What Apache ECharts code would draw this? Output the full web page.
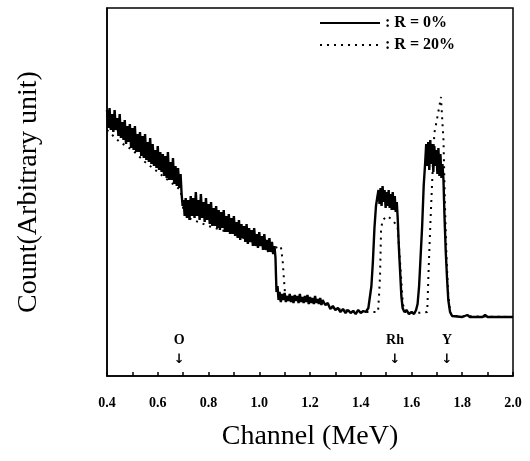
<!DOCTYPE html>
<html>
<head>
<meta charset="utf-8">
<script src="https://cdn.jsdelivr.net/npm/echarts@6/dist/echarts.min.js"></script>
<style>
  html, body { margin: 0; padding: 0; background: #fff; }
  #rbs { width: 530px; height: 461px; }
</style>
</head>
<body>
<div id="rbs"></div>
<script>
// energy (MeV), counts (arbitrary)
var solid0 = [
    [0.400, 266], [0.405, 248], [0.410, 268], [0.415, 246], [0.420, 262], [0.425, 244],
    [0.430, 266], [0.435, 246], [0.440, 258], [0.445, 240], [0.450, 262], [0.455, 238],
    [0.460, 254], [0.465, 236], [0.470, 256], [0.475, 232], [0.480, 250], [0.485, 234],
    [0.490, 252], [0.495, 228], [0.500, 248], [0.505, 226], [0.510, 250], [0.515, 224],
    [0.520, 242], [0.525, 224], [0.530, 244], [0.535, 220], [0.540, 240], [0.545, 218],
    [0.550, 242], [0.555, 216], [0.560, 234], [0.565, 214], [0.570, 238], [0.575, 212],
    [0.580, 232], [0.585, 210], [0.590, 226], [0.595, 208], [0.600, 230], [0.605, 206],
    [0.610, 224], [0.615, 204], [0.620, 222], [0.625, 200], [0.630, 220], [0.635, 198],
    [0.640, 224], [0.645, 196], [0.650, 214], [0.655, 196], [0.660, 218], [0.665, 192],
    [0.670, 210], [0.675, 190], [0.680, 208], [0.685, 188], [0.690, 202], [0.694, 182],
    [0.698, 170], [0.702, 176], [0.706, 160],
    [0.710, 178], [0.715, 158], [0.720, 176], [0.725, 156], [0.730, 180], [0.735, 160],
    [0.740, 178], [0.745, 158], [0.750, 184], [0.755, 160], [0.760, 176], [0.765, 156],
    [0.770, 182], [0.775, 158], [0.780, 174], [0.785, 154], [0.790, 178], [0.795, 156],
    [0.800, 172], [0.805, 152], [0.810, 174], [0.815, 150], [0.820, 168], [0.825, 150],
    [0.830, 170], [0.835, 148], [0.840, 166], [0.845, 146], [0.850, 164], [0.855, 148],
    [0.860, 166], [0.865, 144], [0.870, 160], [0.875, 144], [0.880, 162], [0.885, 142],
    [0.890, 158], [0.895, 142], [0.900, 160], [0.905, 140], [0.910, 154], [0.915, 138],
    [0.920, 156], [0.925, 136], [0.930, 152], [0.935, 138], [0.940, 150], [0.945, 134],
    [0.950, 152], [0.955, 132], [0.960, 148], [0.965, 134], [0.970, 146], [0.975, 130],
    [0.980, 148], [0.985, 130], [0.990, 142], [0.995, 128], [1.000, 144], [1.005, 130],
    [1.010, 140], [1.015, 126], [1.020, 142], [1.025, 126], [1.030, 136], [1.035, 124],
    [1.040, 138], [1.045, 124], [1.050, 134], [1.055, 122], [1.060, 130], [1.064, 118],
    [1.066, 100], [1.068, 84], [1.072, 90], [1.076, 76],
    [1.080, 84], [1.085, 74], [1.090, 82], [1.095, 76], [1.100, 83], [1.105, 74],
    [1.110, 80], [1.115, 75], [1.120, 82], [1.125, 74], [1.130, 80], [1.135, 73],
    [1.140, 81], [1.145, 75], [1.150, 80], [1.155, 73], [1.160, 82], [1.165, 74],
    [1.170, 79], [1.175, 73], [1.180, 80], [1.185, 74], [1.190, 81], [1.195, 72],
    [1.200, 79], [1.205, 73], [1.210, 78], [1.215, 72], [1.220, 80], [1.225, 73],
    [1.230, 77], [1.235, 72], [1.240, 78], [1.245, 71], [1.250, 76], [1.260, 71],
    [1.270, 73], [1.280, 67], [1.290, 70], [1.300, 66], [1.310, 68], [1.320, 64],
    [1.330, 67], [1.340, 63], [1.350, 66], [1.360, 63], [1.370, 65], [1.380, 62],
    [1.390, 66], [1.400, 63], [1.410, 65], [1.420, 64], [1.430, 68],
    [1.436, 70], [1.442, 90], [1.448, 115], [1.454, 148], [1.460, 170], [1.466, 180],
    [1.470, 186], [1.474, 172], [1.478, 188], [1.482, 170], [1.486, 190], [1.490, 174],
    [1.494, 186], [1.498, 168], [1.502, 184], [1.506, 170], [1.510, 186], [1.514, 168],
    [1.518, 182], [1.522, 166], [1.526, 184], [1.530, 166], [1.534, 180], [1.538, 164],
    [1.542, 174], [1.546, 156], [1.550, 130], [1.555, 105], [1.560, 80], [1.565, 68],
    [1.572, 64], [1.580, 66], [1.590, 62], [1.600, 64], [1.610, 62], [1.618, 66],
    [1.624, 72], [1.630, 90], [1.636, 120], [1.642, 150], [1.648, 190], [1.654, 214],
    [1.658, 232], [1.662, 210], [1.666, 234], [1.670, 206], [1.674, 236], [1.678, 212],
    [1.682, 232], [1.686, 204], [1.690, 230], [1.694, 210], [1.698, 226], [1.702, 202],
    [1.706, 228], [1.710, 200], [1.714, 222], [1.718, 198], [1.722, 212], [1.726, 196],
    [1.730, 160], [1.735, 124], [1.740, 98], [1.745, 76], [1.752, 64], [1.760, 60],
    [1.800, 59], [1.820, 61], [1.830, 59], [1.880, 59], [1.890, 61], [1.900, 59], [2.000, 59]
];

var dotted20 = [
    [0.400, 246], [0.450, 234], [0.500, 226], [0.550, 214], [0.600, 204], [0.650, 194],
    [0.690, 186], [0.700, 168], [0.720, 158], [0.800, 150], [0.900, 142], [1.000, 132],
    [1.060, 128], [1.085, 130], [1.092, 116], [1.097, 98], [1.101, 84], [1.109, 78],
    [1.120, 77], [1.250, 74], [1.300, 67], [1.400, 64], [1.468, 64], [1.472, 80],
    [1.476, 100], [1.480, 146], [1.486, 156], [1.505, 160], [1.520, 157], [1.545, 150],
    [1.556, 110], [1.566, 72], [1.575, 64], [1.620, 63], [1.662, 64], [1.668, 110],
    [1.674, 150], [1.680, 186], [1.690, 243], [1.700, 256], [1.712, 273], [1.716, 279],
    [1.722, 253], [1.726, 236], [1.732, 170], [1.738, 120], [1.744, 84], [1.752, 64],
    [1.760, 60], [2.000, 59]
];

var tickLabels = ['0.4', '0.6', '0.8', '1.0', '1.2', '1.4', '1.6', '1.8', '2.0'];

// element markers: label, energy
var peakNames = ['O', 'Rh', 'Y'];
var peakEnergy = [0.685, 1.535, 1.74];

var seriesNames = [': R = 0%', ': R = 20%'];

var serif = '"Liberation Serif", "DejaVu Serif", serif';

var chart = echarts.init(document.getElementById('rbs'));

var marks = [];
for (var k = 0; k < peakNames.length; k++) {
    marks.push({
        coord: [peakEnergy[k], 26],
        value: peakNames[k]
    });
}

option = {
    animation: false,
    backgroundColor: '#fff',
    grid: {
        left: 107, right: 17, top: 8, bottom: 85,
        show: true, borderColor: '#000', borderWidth: 1.5
    },
    legend: {
        orient: 'vertical',
        left: 314, top: 10,
        itemWidth: 60, itemHeight: 12, itemGap: 6,
        data: seriesNames,
        itemStyle: { opacity: 0 },
        textStyle: { fontFamily: serif, fontWeight: 'bold', fontSize: 16, color: '#000' }
    },
    xAxis: {
        type: 'value',
        min: 0.4, max: 2.0, interval: 0.1,
        name: 'Channel (MeV)',
        nameLocation: 'middle',
        nameGap: 47,
        nameTextStyle: { fontFamily: serif, fontSize: 28, color: '#000' },
        axisLine: { lineStyle: { color: '#000', width: 1.5 } },
        axisTick: { inside: true, length: 4, lineStyle: { color: '#000', width: 1.5 } },
        splitLine: { show: false },
        axisLabel: {
            margin: 20,
            color: '#000',
            fontFamily: serif, fontWeight: 'bold', fontSize: 14,
            formatter: function (v) {
                var s = v.toFixed(1);
                return tickLabels.indexOf(s) >= 0 ? s : '';
            }
        }
    },
    yAxis: {
        type: 'value',
        min: 0, max: 368,
        name: 'Count(Arbitrary unit)',
        nameLocation: 'middle',
        nameGap: 64,
        nameTextStyle: { fontFamily: serif, fontSize: 28, color: '#000' },
        axisLine: { show: true, lineStyle: { color: '#000', width: 1.5 } },
        axisTick: { show: false },
        axisLabel: { show: false },
        splitLine: { show: false }
    },
    series: [
        {
            name: seriesNames[0],
            type: 'line',
            data: solid0,
            symbol: 'none',
            lineStyle: { color: '#000', width: 2.4 },
            itemStyle: { color: '#000' },
            z: 3,
            markPoint: {
                symbol: 'rect',
                symbolSize: 1,
                itemStyle: { color: 'rgba(0,0,0,0)' },
                label: {
                    show: true,
                    position: 'inside',
                    formatter: function (p) { return '{t|' + p.value + '}\n{a|↓}'; },
                    rich: {
                        t: { fontFamily: serif, fontWeight: 'bold', fontSize: 14, color: '#000', lineHeight: 20, align: 'center' },
                        a: { fontFamily: '"DejaVu Sans", sans-serif', fontWeight: 'bold', fontSize: 13, color: '#000', lineHeight: 20, align: 'center' }
                    }
                },
                data: marks
            }
        },
        {
            name: seriesNames[1],
            type: 'line',
            data: dotted20,
            symbol: 'none',
            lineStyle: { color: '#000', width: 2, type: [2, 5] },
            itemStyle: { color: '#000' },
            z: 2
        }
    ]
};
chart.setOption(option);
</script>
</body>
</html>
